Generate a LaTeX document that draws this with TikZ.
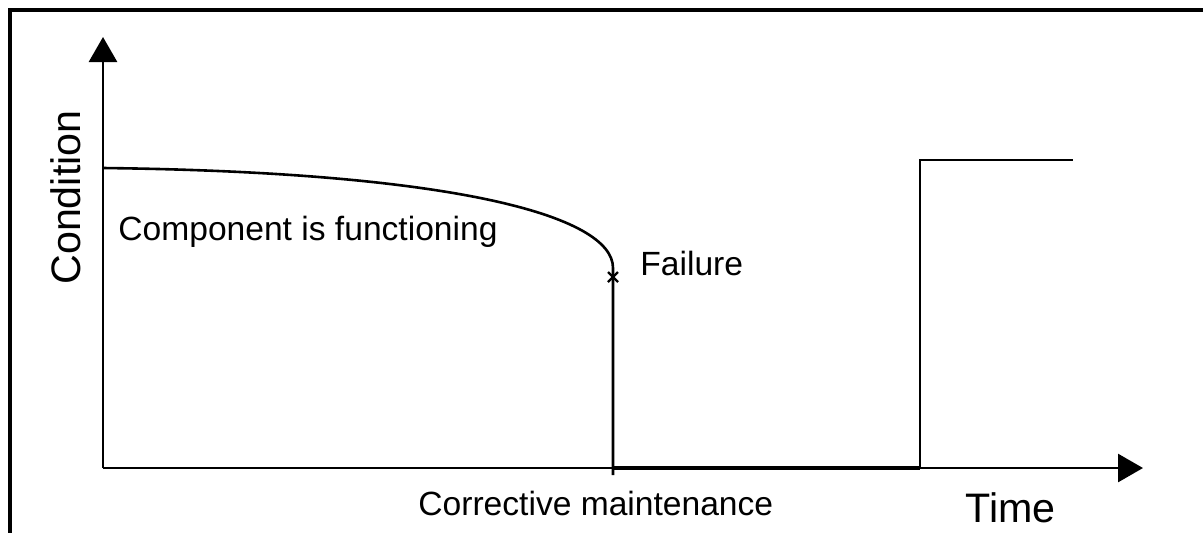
\documentclass[tikz,border=0pt]{standalone}
\usepackage{fontspec}
\setmainfont{Liberation Sans}
\usetikzlibrary{arrows.meta}
\usetikzlibrary{positioning}

\begin{document}
\begin{tikzpicture}[x=0.5pt, y=-0.5pt,
    axis/.style={line width=1.4pt, -{Triangle[length=12.5pt, width=14pt]}},
    curveline/.style={line width=1.3pt},
    lbl/.style={inner sep=0pt, anchor=base west, font=\fontsize{16.8pt}{19pt}\selectfont},
    biglbl/.style={inner sep=0pt, anchor=base west, font=\fontsize{20.6pt}{24pt}\selectfont}]
  \useasboundingbox (0,0) rectangle (1203,532);
  % frame
  \draw[line width=2pt] (9.5,540) -- (9.5,9.5) -- (1210,9.5);

  \coordinate (o) at (103,468) ;
  \coordinate (ytip) at (103,37) ;
  \coordinate (xtip) at (1143,468) ;
  \coordinate (start) at (103,168) ;
  \coordinate (fail) at (613,277) ;
  \coordinate (failfoot) at (613,475) ;
  \coordinate (failbase) at (613,468) ;
  \coordinate (repair) at (920,468) ;
  \coordinate (repairtop) at (920,160) ;
  \coordinate (newend) at (1073,160) ;

  \draw[axis] (o) -- (ytip);
  \draw[axis] (o) -- (xtip);

  \draw[curveline] (start) .. controls (450,172) and (613,215) .. (613,268) -- (fail) -- (failfoot);
  \draw[line width=1.1pt] ([shift={(-5,-5)}]fail) -- ([shift={(5,5)}]fail)
                          ([shift={(-5,5)}]fail) -- ([shift={(5,-5)}]fail);
  \draw[line width=1.6pt] (failbase) -- (repair);
  \draw[curveline] (repair) -- (repairtop) -- (newend);

  \node[lbl] (working) at (118,240) {Component is functioning};
  \node[lbl] (failure) at (640,275) {Failure};
  \node[lbl] (cm) at (418,515) {Corrective maintenance};
  \node[biglbl] (time) at (965,522) {Time};
  \node[biglbl, rotate=90] (cond) at (80,285) {Condition};
\end{tikzpicture}
\end{document}
